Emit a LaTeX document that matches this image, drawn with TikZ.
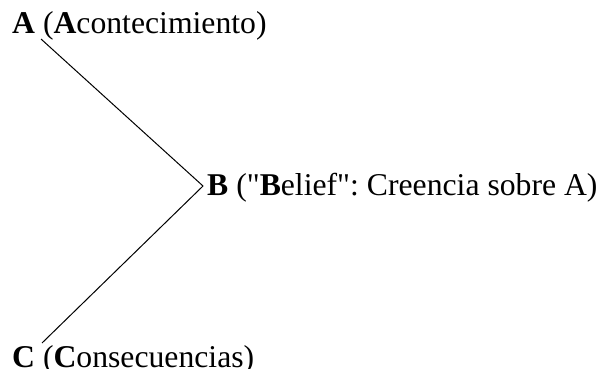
\documentclass[tikz,border=0pt]{standalone}
\usepackage{fontspec}
\setmainfont{Liberation Serif}[Ligatures=TeXOff]
\frenchspacing
\begin{document}
\begin{tikzpicture}[x=1pt,y=-1pt,
  lbl/.style={anchor=base west,inner sep=0pt,font=\fontsize{31.7}{36}\selectfont},
  conn/.style={line width=1pt}]
\useasboundingbox (0,0) rectangle (607,369);
\node[lbl] (A) at (12,34) {\textbf{A} (\textbf{A}contecimiento)};
\node[lbl] (B) at (207,195) {\textbf{B} ("\textbf{B}elief": Creencia sobre A)};
\node[lbl] (C) at (12,367.5) {\textbf{C} (\textbf{C}onsecuencias)};
\coordinate (a1) at (41,39);
\coordinate (b1) at (203,186);
\coordinate (c1) at (42,343);
\draw[conn] (a1) -- (b1) -- (c1);
\end{tikzpicture}
\end{document}
